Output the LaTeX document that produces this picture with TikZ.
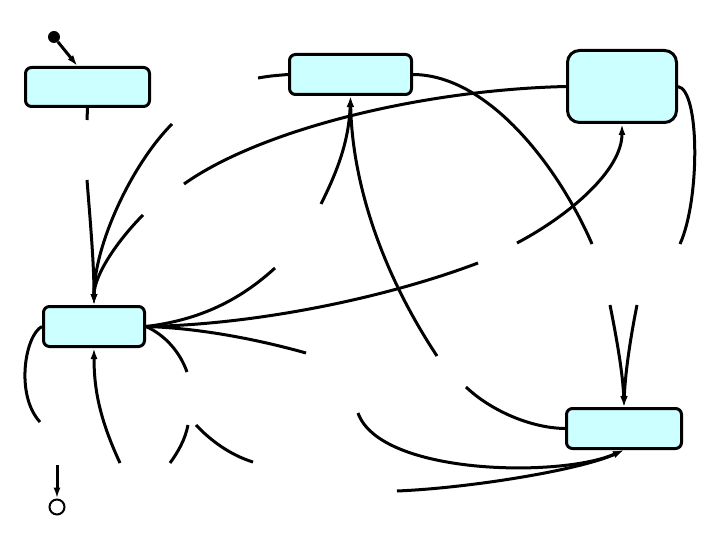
\documentclass[tikz,border=0pt]{standalone}
\usepackage{tikz}
\usetikzlibrary{calc,arrows.meta}
\definecolor{statefill}{RGB}{204,255,255}
\tikzset{state/.style={draw, line width=3pt, rounded corners=6pt, fill=statefill, inner sep=0pt}, trans/.style={line width=3pt, -{Latex[length=11pt,width=7pt]}}, seg/.style={line width=3pt}}

\begin{document}
\begin{tikzpicture}[x=1pt,y=-1pt]
    \useasboundingbox (0,0) rectangle (720,540);
    \node[state, minimum width=124pt, minimum height=39pt] (S1) at (87.5,87) {};
    \node[state, minimum width=122pt, minimum height=40pt] (S2) at (350.5,74.5) {};
    \node[state, minimum width=109pt, minimum height=72pt, rounded corners=12pt] (S3) at (622,86.5) {};
    \node[state, minimum width=101pt, minimum height=40pt] (S4) at (94,326.5) {};
    \node[state, minimum width=115pt, minimum height=40pt] (S5) at (624,428.5) {};
    \node[circle, fill=black, minimum size=12pt, inner sep=0pt] (init) at (54,37) {};
    \node[circle, draw, line width=2pt, minimum size=15pt, inner sep=0pt] (fin) at (57,507) {};
    \coordinate (a1) at (87,120);   \coordinate (a2) at (87,180);
    \coordinate (b1) at (172,124);  \coordinate (b2) at (143,215);
    \coordinate (c1) at (184,184);  \coordinate (c2) at (275,268);
    \coordinate (d1) at (478,263);  \coordinate (d2) at (517,243);
    \coordinate (e1) at (306,353);  \coordinate (e2) at (187,372);
    \coordinate (f1) at (188,425);  \coordinate (f2) at (170,463);
    \coordinate (f3) at (120,463);  \coordinate (g1) at (40,422);
    \coordinate (g2) at (57,465);   \coordinate (h1) at (196,425);
    \coordinate (h2) at (253,462);  \coordinate (h3) at (397,491);
    \coordinate (k1) at (358,413);  \coordinate (k2) at (466,387);
    \coordinate (m1) at (437,356);  \coordinate (m2) at (321,204);
    \coordinate (n1) at (258,78);   \coordinate (p1) at (592,244);
    \coordinate (p2) at (610,305);  \coordinate (q1) at (680,244);
    \coordinate (q2) at (637,305);
    \draw[trans] (init) -- ([xshift=-10pt]S1.north);
    \draw[seg] (S1.south) -- (a1);
    \draw[trans] (a2) .. controls +(4,50) and +(0,-40) .. (S4.north);
    \draw[trans] (b1) .. controls +(-40,40) and +(0,-60) .. (S4.north);
    \draw[trans] (b2) .. controls +(-25,25) and +(0,-30) .. (S4.north);
    \draw[seg] (S3.west) .. controls (420,90) and (260,130) .. (c1);
    \draw[seg] (S4.east) .. controls (200,320) and (240,300) .. (c2);
    \draw[seg] (S4.east) .. controls (250,325) and (380,300) .. (d1);
    \draw[trans] (d2) .. controls (570,215) and (622,170) .. (S3.south);
    \draw[seg] (S4.east) .. controls (200,328) and (260,340) .. (e1);
    \draw[seg] (S4.east) .. controls (165,335) and (180,352) .. (e2);
    \draw[seg] (f1) .. controls (185,440) and (178,452) .. (f2);
    \draw[trans] (f3) .. controls (100,420) and (94,390) .. (S4.south);
    \draw[seg] (S4.west) .. controls (25,335) and (15,395) .. (g1);
    \draw[trans] (g2) -- (fin.north);
    \draw[seg] (h1) .. controls (210,440) and (230,455) .. (h2);
    \draw[trans] (h3) .. controls (470,488) and (580,470) .. (S5.south);
    \draw[trans] (k1) .. controls (380,475) and (560,478) .. (S5.south);
    \draw[seg] (k2) .. controls (490,410) and (530,428) .. (S5.west);
    \draw[trans] (m1) .. controls (380,270) and (352,180) .. (S2.south);
    \draw[trans] (m2) .. controls (338,170) and (349,140) .. (S2.south);
    \draw[seg] (n1) .. controls (270,76) .. (S2.west);
    \draw[seg] (S2.east) .. controls (490,75) and (560,170) .. (p1);
    \draw[trans] (p2) .. controls (617,340) and (623,375) .. (S5.north);
    \draw[seg] (S3.east) .. controls (700,90) and (700,200) .. (q1);
    \draw[trans] (q2) .. controls (630,340) and (625,375) .. (S5.north);
\end{tikzpicture}
\end{document}
